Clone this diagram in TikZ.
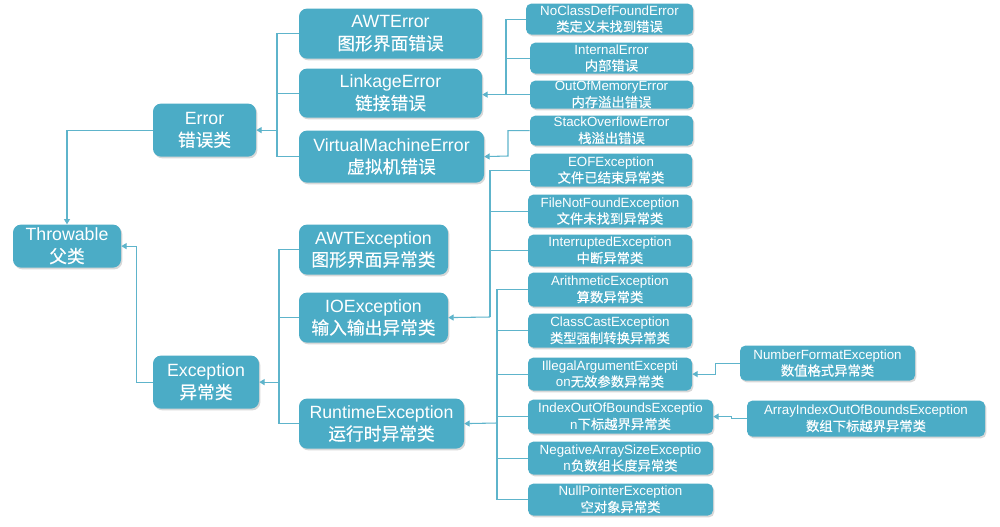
\documentclass[tikz,border=0pt]{standalone}
\usepackage{fontspec}
\setmainfont{Liberation Sans}
\newfontfamily\cjk[FakeBold=0.3]{Noto Sans CJK SC}
\usetikzlibrary{arrows.meta,shadows}
\definecolor{boxc}{HTML}{4BACC6}
\definecolor{linec}{HTML}{5EB4CB}
\tikzset{
  boxbase/.style={fill=boxc, text=white, align=center, inner sep=0pt,
    drop shadow={shadow xshift=1pt, shadow yshift=-1.3pt, opacity=0.3}},
  bigbox/.style={boxbase, rounded corners=6pt, font=\fontsize{13.3}{16.5}\selectfont},
  smallbox/.style={boxbase, rounded corners=4pt, font=\fontsize{10}{12.3}\selectfont},
  link/.style={draw=linec, line width=0.8pt},
  arr/.style={link, -{Triangle[width=4.5pt,length=4pt]}},
}
\newcommand\bx[7]{\node[#1, minimum width={(#5-#3)*0.75pt}, minimum height={(#6-#4)*0.75pt}] (#2) at ({(#3+#5)/2},{(#4+#6)/2+0.6}) {#7};}
\begin{document}
\begin{tikzpicture}[x=0.75pt,y=-0.75pt]
\useasboundingbox[fill=white] (0,0) rectangle (1000,526);
% big boxes
\bx{bigbox}{thr}{13}{224}{121}{267}{Throwable\\{\cjk 父类}}
\bx{bigbox}{err}{153}{103}{256}{156}{Error\\{\cjk 错误类}}
\bx{bigbox}{exc}{153}{355}{259}{408}{Exception\\{\cjk 异常类}}
\bx{bigbox}{awte}{299}{8}{482}{58}{AWTError\\{\cjk 图形界面错误}}
\bx{bigbox}{link}{299}{68}{482}{117}{LinkageError\\{\cjk 链接错误}}
\bx{bigbox}{vme}{299}{130}{484}{182}{VirtualMachineError\\{\cjk 虚拟机错误}}
\bx{bigbox}{awtx}{299}{224}{448}{274}{AWTException\\{\cjk 图形界面异常类}}
\bx{bigbox}{iox}{299}{292}{448}{342}{IOException\\{\cjk 输入输出异常类}}
\bx{bigbox}{rtx}{299}{398}{464}{448}{RuntimeException\\{\cjk 运行时异常类}}
% small boxes
\bx{smallbox}{ncd}{526}{3}{693}{34}{NoClassDefFoundError\\{\cjk 类定义未找到错误}}
\bx{smallbox}{ine}{530}{42}{693}{73}{InternalError\\{\cjk 内部错误}}
\bx{smallbox}{oom}{530}{80}{693}{108}{OutOfMemoryError\\{\cjk 内存溢出错误}}
\bx{smallbox}{sof}{530}{115}{693}{145}{StackOverflowError\\{\cjk 栈溢出错误}}
\bx{smallbox}{eof}{530}{153}{692}{186}{EOFException\\{\cjk 文件已结束异常类}}
\bx{smallbox}{fnf}{528}{194}{692}{227}{FileNotFoundException\\{\cjk 文件未找到异常类}}
\bx{smallbox}{inx}{528}{234}{692}{266}{InterruptedException\\{\cjk 中断异常类}}
\bx{smallbox}{ari}{528}{272}{692}{306}{ArithmeticException\\{\cjk 算数异常类}}
\bx{smallbox}{ccx}{528}{313}{692}{347}{ClassCastException\\{\cjk 类型强制转换异常类}}
\bx{smallbox}{iae}{528}{357}{692}{390}{IllegalArgumentExcepti\\on{\cjk 无效参数异常类}}
\bx{smallbox}{ioob}{528}{399}{713}{433}{IndexOutOfBoundsExceptio\\n{\cjk 下标越界异常类}}
\bx{smallbox}{nas}{528}{441}{713}{474}{NegativeArraySizeExceptio\\n{\cjk 负数组长度异常类}}
\bx{smallbox}{npe}{528}{483}{713}{515}{NullPointerException\\{\cjk 空对象异常类}}
\bx{smallbox}{nfe}{740}{345}{915}{380}{NumberFormatException\\{\cjk 数值格式异常类}}
\bx{smallbox}{aio}{747}{400}{985}{436}{ArrayIndexOutOfBoundsException\\{\cjk 数组下标越界异常类}}
% junction coordinates
\coordinate (je) at (277,130);
\coordinate (jx) at (279,381);
\coordinate (jl) at (506,94);
\coordinate (jv) at (508,156);
\coordinate (jio) at (490,317);
\coordinate (jrt) at (497,423);
% Throwable
\draw[arr] (err.west) -| (thr.north);
\draw[arr] (exc.west) -- ++(-16,0) |- (thr.east);
% Error children
\draw[link] (awte.west) -| (je|-vme.west) -- (vme.west);
\draw[link] (link.west) -- (je|-link.west);
\draw[arr] (je|-err.east) -- (err.east);
% Exception children
\draw[link] (awtx.west) -| (jx|-rtx.west) -- (rtx.west);
\draw[link] (iox.west) -- (jx|-iox.west);
\draw[arr] (jx|-exc.east) -- (exc.east);
% Linkage children
\draw[link] (ncd.west) -| (jl|-oom.west) -- (oom.west);
\draw[link] (ine.west) -- (jl|-ine.west);
\draw[arr] (jl|-oom.west) -- (link.east|-oom.west);
% VME children
\draw[arr] (sof.west) -| (jv) -- (vme.east);
% IOException children
\draw[link] (eof.west) -| (jio) ;
\draw[link] (fnf.west) -- (jio|-fnf.west);
\draw[link] (inx.west) -- (jio|-inx.west);
\draw[arr] (jio) -- (iox.east);
% Runtime children
\draw[link] (ari.west) -| (jrt|-npe.west) -- (npe.west);
\draw[link] (ccx.west) -- (jrt|-ccx.west);
\draw[link] (iae.west) -- (jrt|-iae.west);
\draw[link] (ioob.west) -- (jrt|-ioob.west);
\draw[link] (nas.west) -- (jrt|-nas.west);
\draw[arr] (jrt) -- (rtx.east);
% second level
\draw[arr] (nfe.west) -- ++(-24,0) |- (iae.east);
\draw[arr] (aio.west) -- ++(-15,0) |- (ioob.east);
\end{tikzpicture}
\end{document}
